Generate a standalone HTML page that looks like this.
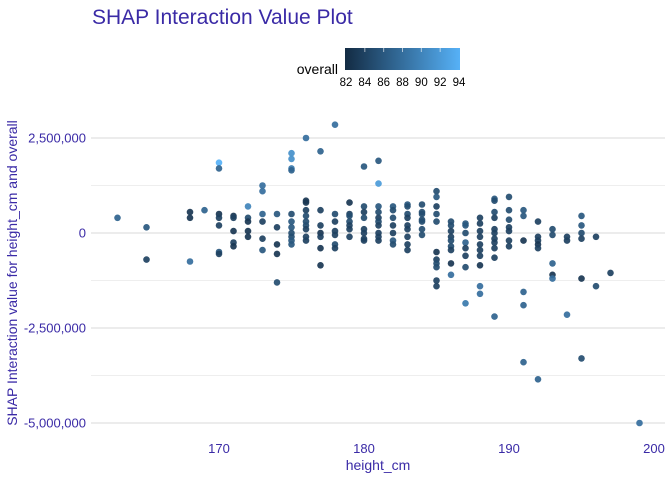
<!DOCTYPE html>
<html><head><meta charset="utf-8"><style>
body{margin:0;background:#fff;font-family:"Liberation Sans",sans-serif}
svg text{font-family:"Liberation Sans",sans-serif}
</style></head><body>
<svg id="c" width="672" height="480" xmlns="http://www.w3.org/2000/svg">
<text x="92" y="24" font-size="21" fill="#3a2aa6">SHAP Interaction Value Plot</text>
<g id="grid"></g>
<g id="pts"></g>
<g id="axes"></g>
<text x="378" y="470" font-size="14" fill="#3a2aa6" text-anchor="middle">height_cm</text>
<text transform="translate(17,273) rotate(-90)" font-size="14" fill="#3a2aa6" text-anchor="middle">SHAP Interaction value for height_cm and overall</text>
<g>
<defs><linearGradient id="lg" x1="0" x2="1"><stop offset="0" stop-color="#132B43"/><stop offset="1" stop-color="#56B1F7"/></linearGradient></defs>
<text x="338" y="74" font-size="14" fill="#000" text-anchor="end">overall</text>
<rect x="345" y="48" width="115" height="22" fill="url(#lg)"/>
<g id="leg"></g>
</g>
</svg>
<script>
const xTicks=[170,180,190,200];
const yTicks=[2500000,0,-2500000,-5000000];
const yTickLabels=["2,500,000","0","-2,500,000","-5,000,000"];
const legendTicks=[82,84,86,88,90,92,94];
const heights=[163,165,165,168,168,168,169,
170,170,170,170,170,170,170,171,171,171,171,171,172,172,172,172,172,
173,173,173,173,173,173,174,174,174,174,174,
175,175,175,175,175,175,175,175,175,175,175,
176,176,176,176,176,176,176,176,176,176,
177,177,177,177,177,177,177,178,178,178,178,178,178,178,
179,179,179,179,179,179,179,180,180,180,180,180,180,180,180,
181,181,181,181,181,181,181,181,181,181,182,182,182,182,182,182,182,
183,183,183,183,183,183,183,183,183,184,184,184,184,184,184,184,
185,185,185,185,185,185,185,185,185,185,185,
186,186,186,186,186,186,186,186,186,
187,187,187,187,187,187,187,187,
188,188,188,188,188,188,188,188,188,188,
189,189,189,189,189,189,189,189,189,189,189,
190,190,190,190,190,190,190,191,191,191,191,191,191,
192,192,192,192,192,192,193,193,193,193,193,194,194,194,
195,195,195,195,195,195,196,196,197,199];
const valuesM=[0.4,0.15,-0.7,0.55,0.4,-0.75,0.6,
1.85,1.7,0.5,0.4,0.2,-0.5,-0.55,0.45,0.4,0.05,-0.25,-0.35,0.7,0.4,0.3,0.05,-0.1,
1.25,1.1,0.5,0.3,-0.15,-0.45,0.5,0.15,-0.3,-0.55,-1.3,
2.1,1.95,1.7,1.65,0.5,0.3,0.15,0,-0.1,-0.2,-0.3,
2.5,0.85,0.8,0.6,0.45,0.3,0.2,0.1,-0.1,-0.2,
2.15,0.6,0.2,0,-0.1,-0.4,-0.85,2.85,0.5,0.3,0.05,-0.05,-0.3,-0.4,
0.8,0.5,0.45,0.3,0.2,0.1,-0.1,1.75,0.7,0.55,0.4,0.1,0,-0.15,-0.2,
1.9,1.3,0.7,0.55,0.4,0.3,0.2,0,-0.1,-0.2,0.7,0.6,0.4,0.2,0,-0.2,-0.3,
0.75,0.7,0.5,0.4,0.2,0.1,-0.1,-0.3,-0.45,0.75,0.55,0.5,0.35,0.3,0.1,-0.05,
1.1,0.95,0.7,0.5,0.3,-0.5,-0.7,-0.8,-0.9,-1.25,-1.4,
0.3,0.2,0.05,-0.1,-0.2,-0.35,-0.45,-0.8,-1.1,
0.25,0.2,0,-0.25,-0.4,-0.6,-0.9,-1.85,
0.4,0.25,0.05,-0.1,-0.3,-0.45,-0.6,-0.85,-1.4,-1.6,
0.9,0.85,0.55,0.4,0.1,0,-0.15,-0.25,-0.4,-0.65,-2.2,
0.95,0.6,0.35,0.15,0.05,-0.2,-0.35,0.6,0.45,-0.2,-1.55,-1.9,-3.4,
0.3,-0.1,-0.2,-0.3,-0.4,-3.85,0.1,-0.05,-0.8,-1.1,-1.2,-0.1,-0.2,-2.15,
0.45,0.2,0,-0.15,-1.2,-3.3,-0.1,-1.4,-1.05,-5.0];
const overall=[87,86,84,83,83,88,87,
94,87,83,84,84,86,84,83,84,83,84,83,90,85,83,83,83,
88,88,87,84,84,86,86,84,83,83,85,
91,91,89,87,85,86,86,85,85,86,86,
88,83,83,84,85,85,85,84,84,84,
87,84,84,83,84,83,83,88,85,84,84,84,85,84,
83,84,85,85,84,84,84,86,85,84,85,84,84,84,84,
86,92,86,85,84,85,84,84,84,84,86,85,85,84,84,86,85,
86,85,85,84,84,84,84,84,84,85,85,85,85,85,85,85,
85,86,84,85,85,83,84,85,85,84,84,
85,85,84,84,85,85,84,83,88,
86,86,85,87,84,84,85,89,
84,84,84,84,84,84,84,83,88,88,
86,85,85,84,84,84,84,84,84,84,87,
85,85,85,84,84,84,84,86,86,83,87,87,87,
84,84,84,83,84,87,85,85,87,83,88,84,84,88,
86,86,85,84,83,85,84,85,84,88];
const NS="http://www.w3.org/2000/svg";
const X0=91,X1=665;
const xs=v=>219+(v-170)*14.5;
const ys=v=>233-v/1e6*38;
function col(o){const t=Math.max(0,Math.min(1,(o-82)/12));
const a=[0x13,0x2B,0x43],b=[0x56,0xB1,0xF7];
return "rgb("+a.map((c,i)=>Math.round(c+(b[i]-c)*t)).join(",")+")";}
function el(t,at,p){const e=document.createElementNS(NS,t);for(const k in at)e.setAttribute(k,at[k]);p.appendChild(e);return e;}
const grid=document.getElementById('grid'),axes=document.getElementById('axes'),pts=document.getElementById('pts'),leg=document.getElementById('leg');
for(let i=0;i<yTicks.length;i++){
 const y=ys(yTicks[i]);
 const g=el('line',{x1:X0,x2:X1,y1:y,y2:y,stroke:'#e6e6e6','stroke-width':1.6},grid);
 
 
 if(i<yTicks.length-1){const ym=ys((yTicks[i]+yTicks[i+1])/2);
  const m=el('line',{x1:X0,x2:X1,y1:ym,y2:ym,stroke:'#eeeeee','stroke-width':1},grid);
  
  }
 const t=el('text',{x:86,y:y+4.5,'font-size':13,fill:'#3a2aa6','text-anchor':'end'},axes);
 t.textContent=yTickLabels[i];
 
 
}
xTicks.forEach(v=>{
 const t=el('text',{x:xs(v),y:453,'font-size':13,fill:'#3a2aa6','text-anchor':'middle'},axes);
 t.textContent=v;
 
 
});
for(let i=0;i<heights.length;i++){
 const c=el('circle',{cx:xs(heights[i]),cy:ys(valuesM[i]*1e6),r:3.3,fill:col(overall[i]),'fill-opacity':0.92},pts);
 
 
}
legendTicks.forEach(v=>{
 const x=346+(v-82)/12*113;
 const t=el('text',{x:x,y:86,'font-size':11.5,fill:'#000','text-anchor':'middle'},leg);
 t.textContent=v;
 
 
 if(v>82&&v<94){const l=el('line',{x1:x,x2:x,y1:48,y2:52,stroke:'#fff','stroke-opacity':0.6},leg);
  
  }
});
</script>
</body></html>
